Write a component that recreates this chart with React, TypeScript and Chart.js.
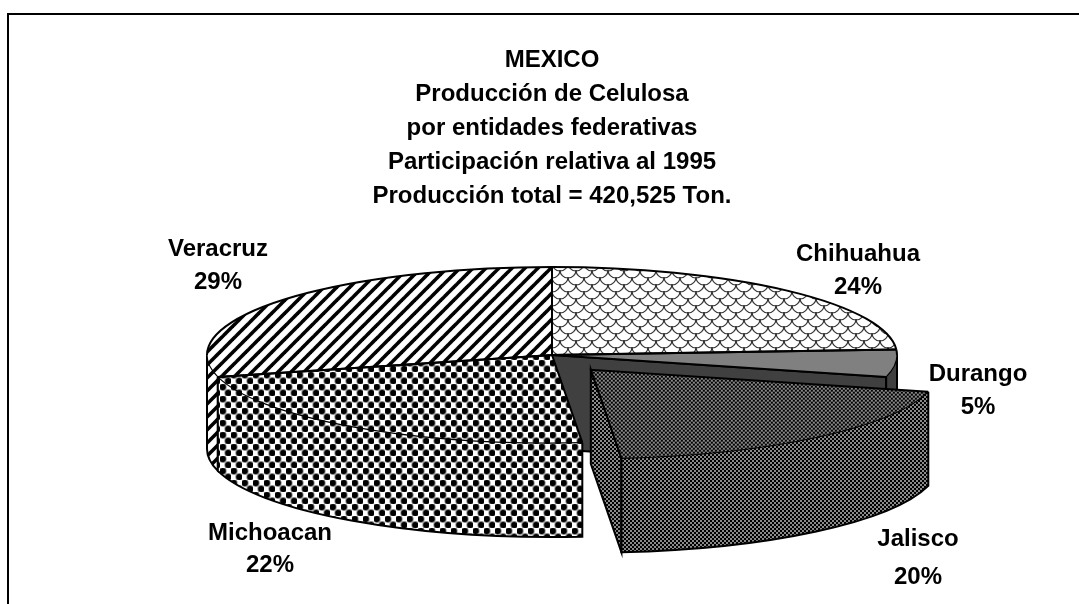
import React, { useEffect, useRef } from "react";
import { Chart, registerables } from "chart.js";

Chart.register(...registerables);

const categories = ["Chihuahua", "Durango", "Jalisco", "Michoacan", "Veracruz"];
const shares = [24, 5, 19.6, 22.4, 29];
const shareLabels = ["24%", "5%", "20%", "22%", "29%"];
const titleLines = [
  "MEXICO",
  "Producción de Celulosa",
  "por entidades federativas",
  "Participación relativa al 1995",
  "Producción total = 420,525 Ton.",
];
const explodeOffsets = [0, 0, 240, 0, 0];
const labelNameAnchors = [[858, 254], [978, 374], [918, 539], [270, 533], [218, 249]];
const labelShareAnchors = [[858, 287], [978, 407], [918, 577], [270, 565], [218, 282]];

const FONT = '"Liberation Sans", Arial, sans-serif';
const RADIUS = 345;
const RATIO = 88 / 345;
const DEPTH = 94;
const DARK = "#404040";
const JALISCO_LIFT = 12;

function tile(w: number, h: number, draw: (c: CanvasRenderingContext2D) => void, ctx: CanvasRenderingContext2D) {
  const cv = document.createElement("canvas");
  cv.width = w;
  cv.height = h;
  draw(cv.getContext("2d") as CanvasRenderingContext2D);
  return ctx.createPattern(cv, "repeat") as CanvasPattern;
}

function makePatterns(ctx: CanvasRenderingContext2D) {
  const scales = tile(16, 14, (c) => {
    c.fillStyle = "#fff";
    c.fillRect(0, 0, 16, 14);
    c.strokeStyle = "#333";
    c.lineWidth = 1.2;
    const centers = [[0, -3], [16, -3], [8, 4], [0, 11], [16, 11], [8, 18], [-8, 4], [24, 4]];
    centers.forEach(([x, y]) => {
      c.beginPath();
      c.arc(x, y, 8, 0, Math.PI);
      c.stroke();
    });
  }, ctx);
  const stripes = tile(13, 13, (c) => {
    c.fillStyle = "#fff";
    c.fillRect(0, 0, 13, 13);
    c.strokeStyle = "#000";
    c.lineWidth = 3.6;
    [[-13, 13, 13, -13], [0, 13, 13, 0], [0, 26, 26, 0]].forEach(([a, b, d, e]) => {
      c.beginPath();
      c.moveTo(a, b);
      c.lineTo(d, e);
      c.stroke();
    });
  }, ctx);
  const dots = tile(11, 12, (c) => {
    c.fillStyle = "#fff";
    c.fillRect(0, 0, 11, 12);
    const centers = [[2.75, 3], [8.25, 9]];
    c.fillStyle = "#8a8a8a";
    centers.forEach(([x, y]) => {
      c.beginPath();
      c.arc(x, y, 3.9, 0, Math.PI * 2);
      c.fill();
    });
    c.fillStyle = "#000";
    centers.forEach(([x, y]) => {
      c.beginPath();
      c.arc(x, y, 3, 0, Math.PI * 2);
      c.fill();
    });
  }, ctx);
  const checks = tile(4, 4, (c) => {
    c.fillStyle = "#000";
    c.fillRect(0, 0, 4, 4);
    c.fillStyle = "#8a8a8a";
    c.fillRect(0, 0, 2, 2);
    c.fillRect(2, 2, 2, 2);
  }, ctx);
  return { scales, stripes, dots, checks };
}

type Geo = { cx: number; cy: number; r: number; a0: number; a1: number };

function sliceGeometry(arc: any, _i: number, all: any[]): Geo {
  const off = (arc.options.offset || 0) / 4;
  const mid = (arc.startAngle + arc.endAngle) / 2;
  const fix = 1 - Math.sin(Math.min(Math.PI, arc.circumference));
  const base = all[0].y;
  return {
    cx: arc.x + Math.cos(mid) * off,
    cy: base + (arc.y - base + Math.sin(mid) * off) * RATIO,
    r: arc.outerRadius + (off ? off * fix : 0),
    a0: arc.startAngle,
    a1: arc.endAngle,
  };
}

function drawWall(ctx: CanvasRenderingContext2D, g: Geo, fill: any) {
  const a0 = Math.max(g.a0, 0);
  const a1 = Math.min(g.a1, Math.PI);
  if (a1 <= a0) return;
  const ry = g.r * RATIO;
  ctx.beginPath();
  ctx.ellipse(g.cx, g.cy, g.r, ry, 0, a0, a1);
  ctx.ellipse(g.cx, g.cy + DEPTH, g.r, ry, 0, a1, a0, true);
  ctx.closePath();
  ctx.fillStyle = fill;
  ctx.fill();
  ctx.strokeStyle = "#000";
  ctx.lineWidth = 2;
  ctx.beginPath();
  ctx.moveTo(g.cx + g.r * Math.cos(a0), g.cy + ry * Math.sin(a0));
  ctx.lineTo(g.cx + g.r * Math.cos(a0), g.cy + ry * Math.sin(a0) + DEPTH);
  ctx.ellipse(g.cx, g.cy + DEPTH, g.r, ry, 0, a0, a1);
  ctx.lineTo(g.cx + g.r * Math.cos(a1), g.cy + ry * Math.sin(a1));
  ctx.stroke();
}

function drawEndFace(ctx: CanvasRenderingContext2D, g: Geo, fill: any) {
  const ry = g.r * RATIO;
  const ex = g.cx + g.r * Math.cos(g.a1);
  const ey = g.cy + ry * Math.sin(g.a1);
  ctx.beginPath();
  ctx.moveTo(g.cx, g.cy);
  ctx.lineTo(g.cx, g.cy + DEPTH);
  ctx.lineTo(ex, ey + DEPTH);
  ctx.lineTo(ex, ey);
  ctx.closePath();
  ctx.fillStyle = fill;
  ctx.fill();
  ctx.strokeStyle = "#000";
  ctx.lineWidth = 2;
  ctx.stroke();
}

function App() {
  const ref = useRef<HTMLCanvasElement>(null);
  useEffect(() => {
    const canvas = ref.current as HTMLCanvasElement;
    const base = canvas.getContext("2d") as CanvasRenderingContext2D;
    const p = makePatterns(base);
    const topFills: any[] = [p.scales, "#808080", p.checks, p.dots, p.stripes];
    const wallFills: any[] = [p.scales, DARK, p.checks, p.dots, p.stripes];
    const patterns = [p.scales, p.checks, p.dots, p.stripes];

    const extrude = {
      id: "extrude",
      beforeDraw(chart: any) {
        const ctx = chart.ctx;
        ctx.save();
        ctx.fillStyle = "#000";
        ctx.fillRect(7, 13, 1072, 2);
        ctx.fillRect(7, 13, 2, 591);
        ctx.restore();
      },
      beforeDatasetDraw(chart: any, args: any) {
        const ctx = chart.ctx;
        const arcs = args.meta.data;
        arcs[2].y = arcs[0].y + JALISCO_LIFT;
        const geos: Geo[] = arcs.map(sliceGeometry);
        patterns.forEach((x) => x.setTransform(new DOMMatrix()));
        drawEndFace(ctx, geos[1], DARK);
        [1, 4, 3, 2].forEach((i) => {
          if (i === 2) drawEndFace(ctx, geos[2], wallFills[2]);
          drawWall(ctx, geos[i], wallFills[i]);
        });
        const cy = arcs[0].y;
        const m = new DOMMatrix().translate(0, cy).scale(1, RATIO).translate(0, -cy);
        const inv = m.inverse();
        patterns.forEach((x) => x.setTransform(inv));
        ctx.save();
        ctx.setTransform(m);
      },
      afterDatasetDraw(chart: any, args: any) {
        const ctx = chart.ctx;
        ctx.restore();
        const geos: Geo[] = args.meta.data.map(sliceGeometry);
        ctx.save();
        ctx.strokeStyle = "#000";
        geos.forEach((g) => {
          const ry = g.r * RATIO;
          const fr = (a: number) => [g.cx + g.r * Math.cos(a), g.cy + ry * Math.sin(a)];
          const [sx, sy] = fr(g.a0);
          const [ex, ey] = fr(g.a1);
          ctx.lineWidth = 2;
          ctx.beginPath();
          ctx.moveTo(sx, sy);
          ctx.lineTo(g.cx, g.cy);
          ctx.lineTo(ex, ey);
          ctx.stroke();
          const frontStart = Math.max(g.a0, 0);
          const frontEnd = Math.min(g.a1, Math.PI);
          if (frontEnd > frontStart) {
            ctx.lineWidth = 1.2;
            ctx.beginPath();
            ctx.ellipse(g.cx, g.cy, g.r, ry, 0, frontStart, frontEnd);
            ctx.stroke();
          }
          ctx.lineWidth = 2;
          if (g.a0 < 0) {
            ctx.beginPath();
            ctx.ellipse(g.cx, g.cy, g.r, ry, 0, g.a0, Math.min(g.a1, 0));
            ctx.stroke();
          }
          if (g.a1 > Math.PI) {
            ctx.beginPath();
            ctx.ellipse(g.cx, g.cy, g.r, ry, 0, Math.max(g.a0, Math.PI), g.a1);
            ctx.stroke();
          }
        });
        ctx.restore();
      },
      afterDraw(chart: any) {
        const ctx = chart.ctx;
        ctx.save();
        ctx.fillStyle = "#000";
        ctx.font = `bold 24px ${FONT}`;
        ctx.textAlign = "center";
        ctx.textBaseline = "middle";
        categories.forEach((name, i) => {
          ctx.fillText(name, labelNameAnchors[i][0], labelNameAnchors[i][1]);
          ctx.fillText(shareLabels[i], labelShareAnchors[i][0], labelShareAnchors[i][1]);
        });
        ctx.restore();
      },
    };

    const chart = new Chart(canvas, {
      type: "pie",
      data: {
        labels: categories,
        datasets: [
          {
            data: shares,
            backgroundColor: topFills,
            borderWidth: 0,
            offset: explodeOffsets,
            clip: false,
          } as any,
        ],
      },
      plugins: [extrude],
      options: {
        animation: false,
        responsive: false,
        radius: RADIUS,
        layout: { padding: { left: 25, bottom: 107 } },
        plugins: {
          legend: { display: false },
          tooltip: { enabled: false },
          title: {
            display: true,
            text: titleLines,
            color: "#000",
            font: { family: FONT, size: 24, weight: "bold", lineHeight: 1.417 },
            padding: { top: 43, bottom: 0 },
          },
        },
      } as any,
    });
    return () => chart.destroy();
  }, []);
  return (
    <div style={{ position: "absolute", left: 0, top: 0, width: 1079, height: 604, background: "#fff" }}>
      <canvas ref={ref} width={1079} height={604} style={{ display: "block" }} />
    </div>
  );
}

export default App;
